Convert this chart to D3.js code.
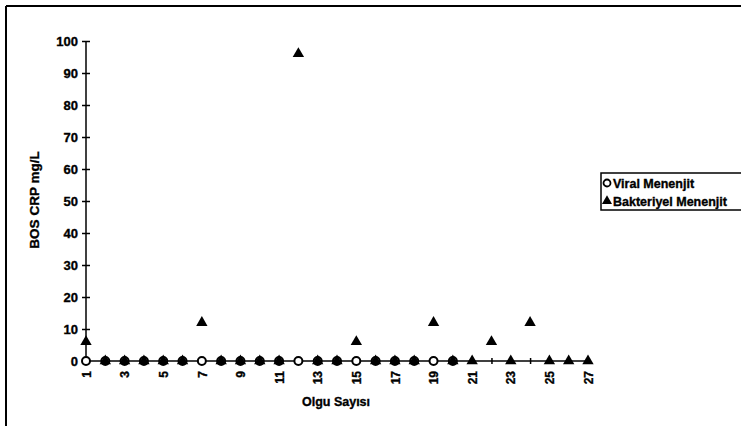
<!DOCTYPE html>
<html>
<meta charset="utf-8">
<style>
  body { margin: 0; background: #fff; }
  svg text { font-family: "Liberation Sans", Arial, sans-serif; font-weight: bold; fill: #000; stroke: #000; stroke-width: 0.35px; }
  .axis path, .axis line { stroke: #000; stroke-width: 1.5px; fill: none; }
</style>
<svg width="741" height="426"></svg>
<script src="https://d3js.org/d3.v7.min.js"></script>
<script>
  // olgu numaralari (x ekseni)
  var cases = [1, 2, 3, 4, 5, 6, 7, 8, 9, 10, 11, 12, 13, 14, 15, 16, 17, 18, 19, 20, 21, 22, 23, 24, 25, 26, 27];
  // etiketi yazilan olgular
  var caseLabels = [1, 3, 5, 7, 9, 11, 13, 15, 17, 19, 21, 23, 25, 27];
  var yTicks = [0, 10, 20, 30, 40, 50, 60, 70, 80, 90, 100];

  // viral menenjit: ilk 20 olgu
  var viral = [0, 0, 0, 0, 0, 0, 0, 0, 0, 0, 0, 0, 0, 0, 0, 0, 0, 0, 0, 0, null, null, null, null, null, null, null];
  // bakteriyel menenjit
  var bacterial = [6, 0, 0, 0, 0, 0, 12, 0, 0, 0, 0, 96, 0, 0, 6, 0, 0, 0, 12, 0, 0, 6, 0, 12, 0, 0, 0];

  var svg = d3.select("svg");

  // dis cerceve (sol ve ust)
  svg.append("line").attr("x1", 6).attr("x2", 741).attr("y1", 6).attr("y2", 6)
    .attr("stroke", "#000").attr("stroke-width", 2);
  svg.append("line").attr("x1", 6).attr("x2", 6).attr("y1", 6).attr("y2", 426)
    .attr("stroke", "#000").attr("stroke-width", 2);

  var x = d3.scalePoint().domain(cases).range([86, 588]);
  var y = d3.scaleLinear().domain([0, 100]).range([361, 41]);

  // y ekseni
  var gy = svg.append("g").attr("class", "axis")
    .attr("transform", "translate(86,0)")
    .call(d3.axisLeft(y).tickValues(yTicks).tickSize(4).tickPadding(8));
  gy.select(".domain").attr("d", "M0," + y(100) + "V" + y(0));
  gy.selectAll(".tick line").attr("x1", -4).attr("x2", 4);
  gy.selectAll(".tick text").style("font-size", "13px").attr("x", -8);

  // x ekseni
  var gx = svg.append("g").attr("class", "axis")
    .attr("transform", "translate(0," + y(0) + ")")
    .call(d3.axisBottom(x).tickSize(3).tickFormat(function (d) { return caseLabels.indexOf(d) >= 0 ? d : ""; }));
  gx.select(".domain").attr("d", "M" + x(1) + ",0H" + (x(27) + 2));
  gx.selectAll(".tick line").attr("y1", -3).attr("y2", 3);
  gx.selectAll(".tick text")
    .style("font-size", "12px")
    .attr("transform", "rotate(-90)")
    .attr("x", -10).attr("y", 0).attr("dy", "0.35em")
    .style("text-anchor", "end");

  // eksen basliklari
  svg.append("text").attr("x", 336).attr("y", 406).style("text-anchor", "middle")
    .style("font-size", "12.5px").text("Olgu Sayısı");
  svg.append("text").attr("transform", "translate(39,200) rotate(-90)").style("text-anchor", "middle")
    .style("font-size", "13.5px").text("BOS CRP mg/L");

  var tri = d3.symbol().type(d3.symbolTriangle).size(56);

  // viral: bos daire
  svg.append("g").selectAll("circle")
    .data(cases.filter(function (d, i) { return viral[i] !== null; }))
    .enter().append("circle")
    .attr("cx", function (d) { return x(d); })
    .attr("cy", function (d) { return y(viral[d - 1]); })
    .attr("r", 4)
    .attr("fill", "#fff").attr("stroke", "#000").attr("stroke-width", 2);

  // bakteriyel: dolu ucgen
  svg.append("g").selectAll("path")
    .data(cases)
    .enter().append("path")
    .attr("d", tri)
    .attr("transform", function (d, i) { return "translate(" + x(d) + "," + y(bacterial[i]) + ")"; })
    .attr("fill", "#000");

  // lejant
  var lg = svg.append("g").attr("transform", "translate(601,173)");
  lg.append("rect").attr("width", 150).attr("height", 37)
    .attr("fill", "#fff").attr("stroke", "#000").attr("stroke-width", 1.5);
  lg.append("circle").attr("cx", 6).attr("cy", 10).attr("r", 3.5)
    .attr("fill", "#fff").attr("stroke", "#000").attr("stroke-width", 1.8);
  lg.append("text").attr("x", 12).attr("y", 14.5).style("font-size", "12.5px").text("Viral Menenjit");
  lg.append("path").attr("d", d3.symbol().type(d3.symbolTriangle).size(44)).attr("transform", "translate(6,28)").attr("fill", "#000");
  lg.append("text").attr("x", 12).attr("y", 32.5).style("font-size", "12.5px").text("Bakteriyel Menenjit");
</script>
</html>
